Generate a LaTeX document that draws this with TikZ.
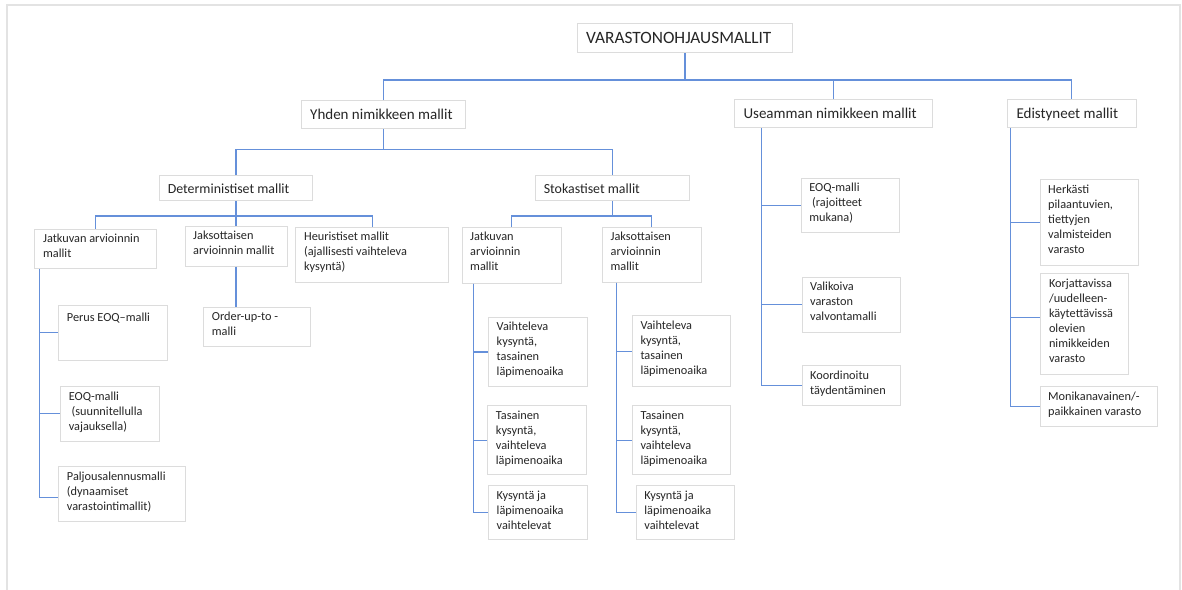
\documentclass[tikz,border=0pt]{standalone}
\usepackage{fontspec}
\setmainfont{Carlito}
\usetikzlibrary{calc}
\definecolor{conncol}{HTML}{6590DA}
\definecolor{boxcol}{HTML}{DCDCDC}
\definecolor{framecol}{HTML}{E3E3E3}
\definecolor{txtcol}{HTML}{262626}
\newcommand\fntTop{\fontsize{17.3}{21}\selectfont}
\newcommand\fntTwo{\fontsize{15}{18}\selectfont}
\newcommand\fntThree{\fontsize{13.9}{17}\selectfont}
\newcommand\fntLeaf{\fontsize{12.3}{15}\selectfont}
\tikzset{
  bx/.style={draw=boxcol, line width=1pt, fill=white, inner sep=0pt, anchor=north west},
  tx/.style={anchor=north west, inner sep=0pt, align=left, text=txtcol, execute at begin node=\strut},
  lvtop/.style={font=\fntTop, xshift=9pt, yshift=-5.9pt},
  lvtwo/.style={font=\fntTwo, xshift=9pt, yshift=-6.4pt},
  lvthree/.style={font=\fntThree, xshift=8.6pt, yshift=-6.4pt},
  lvleaf/.style={font=\fntLeaf, xshift=8.5pt, yshift=-5.5pt},
  conn/.style={draw=conncol, line width=1.1pt},
}
% #1 name, #2 left, #3 top, #4 width, #5 height, #6 text style, #7 text
\newcommand\boxnode[7]{%
  \node[bx, minimum width=#4pt, minimum height=#5pt] (#1) at (#2,#3) {};
  \node[tx, #6] (#1-t) at (#1.north west) {#7};}
\begin{document}
\begin{tikzpicture}[x=1pt, y=-1pt]
\useasboundingbox (0,0) rectangle (1182,589);
\fill[white] (0,0) rectangle (1182,589);
\draw[framecol, line width=2pt] (7,595) -- (7,5) -- (1180,5) -- (1180,595);

% level 1 and 2
\boxnode{top}{577}{23}{215}{29.3}{lvtop}{VARASTONOHJAUSMALLIT}
\boxnode{yhden}{301}{100}{164}{28}{lvtwo}{Yhden nimikkeen mallit}
\boxnode{usea}{734.3}{99.3}{197.7}{28}{lvtwo}{Useamman nimikkeen mallit}
\boxnode{edist}{1007.3}{99.3}{128.2}{28}{lvtwo}{Edistyneet mallit}
% level 3
\boxnode{det}{159}{175}{153}{25}{lvthree}{Deterministiset mallit}
\boxnode{stok}{535}{175}{153.6}{25}{lvthree}{Stokastiset mallit}
% level 4
\boxnode{jatdet}{34.4}{228.5}{122}{39.5}{lvleaf}{Jatkuvan arvioinnin\\mallit}
\boxnode{jakdet}{184.5}{225.7}{102}{40}{lvleaf}{Jaksottaisen\\arvioinnin mallit}
\boxnode{heur}{295.4}{226.7}{153}{55}{lvleaf}{Heuristiset mallit\\(ajallisesti vaihteleva\\kysyntä)}
\boxnode{jatstok}{461.5}{226.7}{99.2}{56}{lvleaf}{Jatkuvan\\arvioinnin\\mallit}
\boxnode{jakstok}{601.9}{226.7}{98.6}{55}{lvleaf}{Jaksottaisen\\arvioinnin\\mallit}
% leaves
\boxnode{perus}{58.2}{305}{109}{54.7}{lvleaf}{Perus EOQ–malli}
\boxnode{eoqb}{60.1}{386}{98.7}{54.7}{lvleaf}{EOQ-malli\\\ (suunnitellulla\\vajauksella)}
\boxnode{palj}{58.2}{466.3}{126.3}{54.4}{lvleaf}{Paljousalennusmalli\\(dynaamiset\\varastointimallit)}
\boxnode{orderup}{203.2}{306.7}{107.2}{39.6}{lvleaf}{Order-up-to -\\malli}
\boxnode{sa}{488}{316.7}{99}{69.6}{lvleaf}{Vaihteleva\\kysyntä,\\tasainen\\läpimenoaika}
\boxnode{sb}{487.2}{405}{98.8}{69.3}{lvleaf}{Tasainen\\kysyntä,\\vaihteleva\\läpimenoaika}
\boxnode{sc}{488}{485}{99}{54.3}{lvleaf}{Kysyntä ja\\läpimenoaika\\vaihtelevat}
\boxnode{ta}{631.8}{315.3}{97.9}{71}{lvleaf}{Vaihteleva\\kysyntä,\\tasainen\\läpimenoaika}
\boxnode{tb}{631.8}{405}{97.9}{69.3}{lvleaf}{Tasainen\\kysyntä,\\vaihteleva\\läpimenoaika}
\boxnode{tc}{635.7}{485}{97.8}{54.3}{lvleaf}{Kysyntä ja\\läpimenoaika\\vaihtelevat}
\boxnode{ua}{800.7}{177.7}{98.3}{54.6}{lvleaf}{EOQ-malli\\\ (rajoitteet\\mukana)}
\boxnode{ub}{801.5}{276.7}{98.7}{55}{lvleaf}{Valikoiva\\varaston\\valvontamalli}
\boxnode{uc}{801.5}{365.3}{98.7}{40}{lvleaf}{Koordinoitu\\täydentäminen}
\boxnode{ea}{1039.5}{179.3}{98.3}{86}{lvleaf}{Herkästi\\pilaantuvien,\\tiettyjen\\valmisteiden\\varasto}
\boxnode{eb}{1040.3}{273.3}{87.9}{100.7}{lvleaf}{Korjattavissa\\/uudelleen-\\käytettävissä\\olevien\\nimikkeiden\\varasto}
\boxnode{ec}{1039.5}{386.3}{117.1}{39.2}{lvleaf}{Monikanavainen/-\\paikkainen varasto}

% bus levels
\coordinate (bus0) at (0,80);
\coordinate (bus1) at (0,149.5);
\coordinate (bus2) at (0,216);

\draw[conn] (top.south) -- (top.south |- bus0);
\draw[conn] (yhden.north) |- (edist.north |- bus0) -- (edist.north);
\draw[conn] (usea.north) -- (usea.north |- bus0);
\draw[conn] (yhden.south) -- (yhden.south |- bus1);
\draw[conn] (det.north) |- (stok.north |- bus1) -- (stok.north);
\draw[conn] (det.south) -- (jakdet.north);
\draw[conn] (jatdet.north) |- (heur.north |- bus2) -- (heur.north);
\draw[conn] (stok.south) -- (stok.south |- bus2);
\draw[conn] (jatstok.north) |- (jakstok.north |- bus2) -- (jakstok.north);
\draw[conn] (jakdet.south) -- (jakdet.south |- orderup.north);

% trunks
\coordinate (tr1) at ($(jatdet.south west)+(5,0)$);
\draw[conn] (tr1) |- (perus.west);
\draw[conn] (tr1) |- (eoqb.west);
\draw[conn] (tr1) |- ([yshift=-3.8pt]palj.west);
\coordinate (tr2) at ($(jatstok.south west)+(12.3,0)$);
\draw[conn] (tr2) |- (sa.west);
\draw[conn] (tr2) |- (sb.west);
\draw[conn] (tr2) |- (sc.west);
\coordinate (tr3) at ($(jakstok.south west)+(15,0)$);
\draw[conn] (tr3) |- (ta.west);
\draw[conn] (tr3) |- (tb.west);
\draw[conn] (tr3) |- (tc.west);
\coordinate (tr4) at ($(usea.south west)+(27.5,0)$);
\draw[conn] (tr4) |- (ua.west);
\draw[conn] (tr4) |- (ub.west);
\draw[conn] (tr4) |- (uc.west);
\coordinate (tr5) at ($(edist.south west)+(3.5,0)$);
\draw[conn] (tr5) |- (ea.west);
\draw[conn] (tr5) |- ([yshift=7pt]eb.west);
\draw[conn] (tr5) |- (ec.west);
\end{tikzpicture}
\end{document}
